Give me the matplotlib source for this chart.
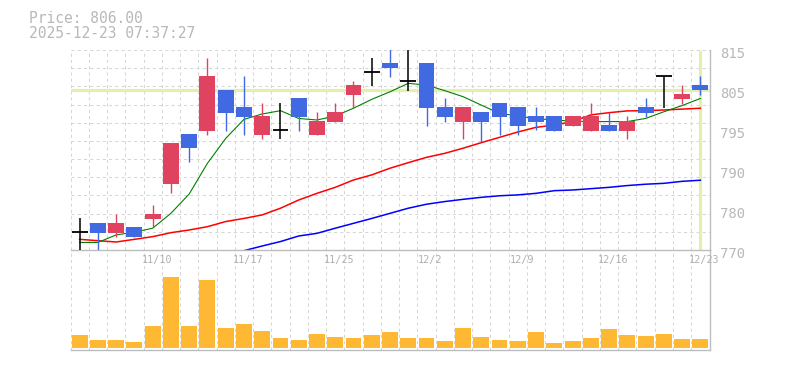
import matplotlib
matplotlib.use('Agg')
import matplotlib.pyplot as plt
import numpy as np
from matplotlib.transforms import ScaledTranslation, blended_transform_factory

# ---------------- data ----------------
dates = ['11/4', '11/5', '11/6', '11/7', '11/10', '11/11', '11/12', '11/13', '11/14',
         '11/17', '11/18', '11/19', '11/20', '11/21', '11/25', '11/26', '11/27', '11/28',
         '12/1', '12/2', '12/3', '12/4', '12/5', '12/8', '12/9', '12/10', '12/11', '12/12',
         '12/15', '12/16', '12/17', '12/18', '12/19', '12/22', '12/23']
date_label_idx = [4, 9, 14, 19, 24, 29, 34]

opens = [774.0, 776.1, 773.9, 775.2, 777.05, 784.85, 796.1, 796.85, 806.0, 802.2,
         795.95, 797.0, 804.1, 795.95, 798.9, 804.95, 810.0, 812.1, 808.0, 812.1,
         802.2, 798.9, 801.05, 803.1, 802.2, 800.15, 800.15, 798.0, 796.85, 798.1,
         796.85, 802.2, 809.15, 804.05, 807.1]
highs = [777.1, 776.1, 778.1, 775.2, 780.1, 794.0, 796.1, 813.1, 806.0, 809.15,
         803.0, 803.0, 804.1, 801.1, 803.1, 808.0, 813.1, 816.0, 816.0, 812.1,
         804.1, 802.2, 801.05, 803.1, 802.2, 802.2, 800.15, 800.15, 803.1, 801.05,
         800.15, 804.2, 809.15, 807.1, 809.15]
lows = [769.0, 769.0, 773.0, 773.0, 775.25, 782.9, 789.9, 795.9, 796.85, 795.9,
        795.05, 795.05, 796.85, 795.95, 798.9, 802.0, 806.95, 809.0, 805.85, 798.0,
        798.9, 795.05, 794.4, 795.95, 795.95, 796.9, 796.85, 798.0, 796.85, 796.85,
        795.05, 800.0, 802.0, 802.9, 804.95]
closes = [774.0, 773.9, 776.1, 773.0, 778.1, 794.0, 793.0, 809.15, 800.9, 800.0,
          800.15, 797.0, 800.0, 799.0, 801.05, 807.1, 810.0, 811.0, 808.0, 802.0,
          800.0, 802.2, 798.9, 800.0, 798.0, 798.9, 796.85, 800.15, 800.15, 796.85,
          799.0, 800.9, 809.15, 805.1, 806.0]

ma_short = [771.7, 771.7, 773.4, 774.0, 774.9, 778.25, 782.6, 789.5, 795.1, 799.4,
            800.6, 801.35, 799.6, 799.25, 800.15, 801.9, 803.9, 805.6, 807.5, 807.1,
            805.85, 804.5, 802.6, 800.75, 800.15, 799.55, 799.25, 799.0, 798.9, 798.9,
            798.9, 799.6, 801.1, 802.5, 804.1]
ma_mid = [772.4, 772.1, 771.8, 772.4, 773.0, 773.9, 774.5, 775.25, 776.4, 777.1,
          777.9, 779.4, 781.25, 782.75, 784.1, 785.75, 786.9, 788.4, 789.65, 790.85,
          791.75, 792.9, 794.15, 795.35, 796.55, 797.6, 798.1, 798.9, 800.4, 800.9,
          801.3, 801.35, 801.5, 801.7, 801.9]
ma_long = [np.nan] * 9 + [769.85, 770.9, 771.9, 773.15, 773.75, 774.9, 776.0, 777.1,
                          778.25, 779.4, 780.3, 780.9, 781.4, 781.85, 782.2, 782.4,
                          782.75, 783.35, 783.5, 783.8, 784.1, 784.5, 784.8, 785.0,
                          785.45, 785.7]

volumes = [13, 8, 8, 6, 22, 71, 22, 68, 20, 24, 17, 10, 8, 14, 11, 10, 13, 16, 10, 10,
           7, 20, 11, 8, 7, 16, 5, 7, 10, 19, 13, 12, 14, 9, 9]

ytick_vals = [770, 779, 788, 797, 806, 815]
ytick_labels = ['770', '780', '790', '795', '805', '815']

last_price = 806.0
title_lines = ['Price: 806.00', '2025-12-23 07:37:27']

# ---------------- style ----------------
UP = '#e0435f'
DOWN = '#4169e1'
VOLC = '#ffb833'
GRID = '#d6d6d6'
AXC = '#bdbdbd'
TXT = '#b8b8b8'
HL = '#e3f0ad'
MONO = 'DejaVu Sans Mono'

W, H = 785, 370
fig = plt.figure(figsize=(W / 100, H / 100), dpi=100)


def rect(l, t, r, b):
    return [l / W, 1 - b / H, (r - l) / W, (b - t) / H]


ax = fig.add_axes(rect(70.5, 50, 709.5, 250))
axv = fig.add_axes(rect(70.5, 250, 709.5, 350))

n = len(closes)
x = np.arange(n)
for a in (ax, axv):
    a.set_xlim(-0.5, n - 0.5)
    a.set_facecolor('none')
    for s in ('top', 'left'):
        a.spines[s].set_visible(False)
    for s in ('right', 'bottom'):
        a.spines[s].set_color(AXC)
        a.spines[s].set_linewidth(1.0)
    a.set_xticks([])
    for k in range(n):
        a.axvline(k - 0.5, color=GRID, lw=0.75, ls=(0, (3, 3)), zorder=0)

ax.set_ylim(770, 815)
for k in range(11):
    ax.axhline(815 - k * 45 / 11, color=GRID, lw=0.75, ls=(0, (3, 3)), zorder=0)

# current price markers
ax.axhline(last_price, color=HL, lw=2.3, zorder=1)
ax.plot([x[-1], x[-1]], [770.4, 814.6], color=HL, lw=2.3, zorder=1)

# moving averages
ax.plot(x, ma_long, color='#0000ff', lw=1.1, zorder=2)
ax.plot(x, ma_mid, color='#ff0000', lw=1.1, zorder=2)
ax.plot(x, ma_short, color='#008000', lw=0.8, zorder=2)

# candles
bw = 0.87
for i in range(n):
    o, h, l, c = opens[i], highs[i], lows[i], closes[i]
    if abs(c - o) < 1e-9:
        ax.vlines(i, l, h, color='black', lw=1.1, zorder=3)
        ax.hlines(o, i - bw / 2, i + bw / 2, color='black', lw=1.3, zorder=3)
        continue
    col = UP if c > o else DOWN
    ax.vlines(i, l, h, color=col, lw=1.0, zorder=3)
    ax.bar(i, abs(c - o), bottom=min(o, c), width=bw, color=col, zorder=4, linewidth=0)

# y labels on right
ax.yaxis.tick_right()
ax.set_yticks(ytick_vals)
ax.set_yticklabels(ytick_labels)
ax.tick_params(axis='y', length=0, pad=7.5, labelsize=10, labelcolor=TXT)
for lab in ax.get_yticklabels():
    lab.set_fontfamily(MONO)
    lab.set_transform(lab.get_transform() + ScaledTranslation(0, -2.5 / 100, fig.dpi_scale_trans))

# volume
axv.set_ylim(-2, 98)
axv.set_yticks([])
axv.bar(x, volumes, width=bw, color=VOLC, zorder=2, linewidth=0)

trans = blended_transform_factory(axv.transData, axv.transAxes) + \
    ScaledTranslation(4 / 100, 0, fig.dpi_scale_trans)
for i in date_label_idx:
    axv.text(i, 0.895, dates[i], transform=trans, ha='center', va='center',
             fontsize=7.3, color='#b0b0b0', family=MONO, zorder=5)

# title text
fig.text(29 / W, 1 - 23.3 / H, title_lines[0], fontsize=10.5, color=TXT,
         family=MONO, va='baseline', ha='left')
fig.text(29 / W, 1 - 38 / H, title_lines[1], fontsize=10.5, color=TXT,
         family=MONO, va='baseline', ha='left')

fig.savefig('out.png', dpi=100)
